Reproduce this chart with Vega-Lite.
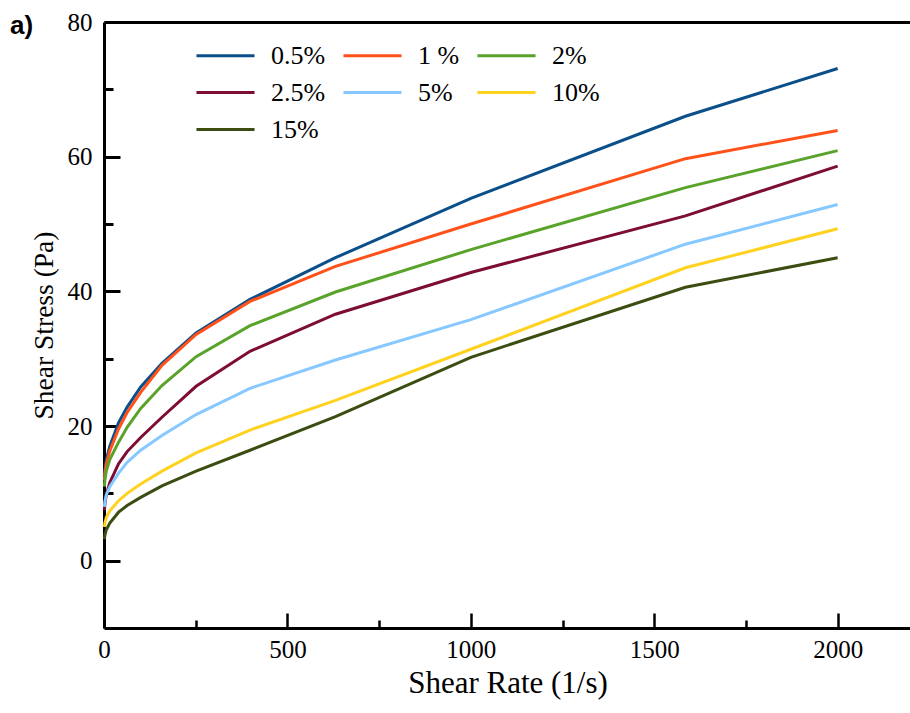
{
  "$schema": "https://vega.github.io/schema/vega-lite/v6.json",
  "width": 807,
  "height": 606,
  "autosize": {"type": "none"},
  "padding": {"left": 104, "top": 22, "right": 0, "bottom": 85},
  "background": "white",
  "title": {"text": "a)", "anchor": "start", "frame": "group", "font": "Liberation Sans", "fontSize": 26, "fontWeight": "bold", "color": "black", "baseline": "top", "offset": 0, "dx": -94, "dy": 29},
  "config": {"view": {"stroke": null}, "font": "Liberation Serif"},
  "data": {"values": [
    {"conc":"0.5%","rate":1,"stress":12.5},{"conc":"0.5%","rate":2.5,"stress":13.5},{"conc":"0.5%","rate":6.3,"stress":15.0},{"conc":"0.5%","rate":15.8,"stress":17.0},{"conc":"0.5%","rate":39.8,"stress":20.5},{"conc":"0.5%","rate":63.1,"stress":22.8},{"conc":"0.5%","rate":100,"stress":25.8},{"conc":"0.5%","rate":158,"stress":29.3},{"conc":"0.5%","rate":251,"stress":33.8},{"conc":"0.5%","rate":398,"stress":38.8},{"conc":"0.5%","rate":631,"stress":45.0},{"conc":"0.5%","rate":1000,"stress":53.8},{"conc":"0.5%","rate":1585,"stress":66.0},{"conc":"0.5%","rate":2000,"stress":73.1},
    {"conc":"1 %","rate":1,"stress":12.0},{"conc":"1 %","rate":2.5,"stress":13.0},{"conc":"1 %","rate":6.3,"stress":14.4},{"conc":"1 %","rate":15.8,"stress":16.3},{"conc":"1 %","rate":39.8,"stress":19.6},{"conc":"1 %","rate":63.1,"stress":22.0},{"conc":"1 %","rate":100,"stress":25.0},{"conc":"1 %","rate":158,"stress":29.0},{"conc":"1 %","rate":251,"stress":33.6},{"conc":"1 %","rate":398,"stress":38.5},{"conc":"1 %","rate":631,"stress":43.7},{"conc":"1 %","rate":1000,"stress":50.0},{"conc":"1 %","rate":1585,"stress":59.7},{"conc":"1 %","rate":2000,"stress":63.9},
    {"conc":"2%","rate":1,"stress":11.0},{"conc":"2%","rate":2.5,"stress":12.0},{"conc":"2%","rate":6.3,"stress":13.3},{"conc":"2%","rate":15.8,"stress":15.0},{"conc":"2%","rate":39.8,"stress":17.6},{"conc":"2%","rate":63.1,"stress":19.8},{"conc":"2%","rate":100,"stress":22.6},{"conc":"2%","rate":158,"stress":26.0},{"conc":"2%","rate":251,"stress":30.3},{"conc":"2%","rate":398,"stress":34.9},{"conc":"2%","rate":631,"stress":39.9},{"conc":"2%","rate":1000,"stress":46.2},{"conc":"2%","rate":1585,"stress":55.4},{"conc":"2%","rate":2000,"stress":60.9},
    {"conc":"2.5%","rate":1,"stress":7.5},{"conc":"2.5%","rate":2.5,"stress":8.5},{"conc":"2.5%","rate":6.3,"stress":9.8},{"conc":"2.5%","rate":15.8,"stress":11.6},{"conc":"2.5%","rate":39.8,"stress":14.4},{"conc":"2.5%","rate":63.1,"stress":16.2},{"conc":"2.5%","rate":100,"stress":18.3},{"conc":"2.5%","rate":158,"stress":21.3},{"conc":"2.5%","rate":251,"stress":25.9},{"conc":"2.5%","rate":398,"stress":31.1},{"conc":"2.5%","rate":631,"stress":36.6},{"conc":"2.5%","rate":1000,"stress":42.8},{"conc":"2.5%","rate":1585,"stress":51.2},{"conc":"2.5%","rate":2000,"stress":58.6},
    {"conc":"5%","rate":1,"stress":8.0},{"conc":"5%","rate":2.5,"stress":8.8},{"conc":"5%","rate":6.3,"stress":9.8},{"conc":"5%","rate":15.8,"stress":11.0},{"conc":"5%","rate":39.8,"stress":13.0},{"conc":"5%","rate":63.1,"stress":14.6},{"conc":"5%","rate":100,"stress":16.4},{"conc":"5%","rate":158,"stress":18.6},{"conc":"5%","rate":251,"stress":21.7},{"conc":"5%","rate":398,"stress":25.6},{"conc":"5%","rate":631,"stress":29.8},{"conc":"5%","rate":1000,"stress":35.8},{"conc":"5%","rate":1585,"stress":47.0},{"conc":"5%","rate":2000,"stress":52.9},
    {"conc":"10%","rate":1,"stress":5.0},{"conc":"10%","rate":2.5,"stress":5.6},{"conc":"10%","rate":6.3,"stress":6.4},{"conc":"10%","rate":15.8,"stress":7.4},{"conc":"10%","rate":39.8,"stress":8.9},{"conc":"10%","rate":63.1,"stress":10.0},{"conc":"10%","rate":100,"stress":11.4},{"conc":"10%","rate":158,"stress":13.3},{"conc":"10%","rate":251,"stress":16.0},{"conc":"10%","rate":398,"stress":19.4},{"conc":"10%","rate":631,"stress":23.8},{"conc":"10%","rate":1000,"stress":31.4},{"conc":"10%","rate":1585,"stress":43.5},{"conc":"10%","rate":2000,"stress":49.3},
    {"conc":"15%","rate":1,"stress":3.2},{"conc":"15%","rate":2.5,"stress":3.8},{"conc":"15%","rate":6.3,"stress":4.6},{"conc":"15%","rate":15.8,"stress":5.6},{"conc":"15%","rate":39.8,"stress":7.2},{"conc":"15%","rate":63.1,"stress":8.2},{"conc":"15%","rate":100,"stress":9.4},{"conc":"15%","rate":158,"stress":11.1},{"conc":"15%","rate":251,"stress":13.3},{"conc":"15%","rate":398,"stress":16.4},{"conc":"15%","rate":631,"stress":21.4},{"conc":"15%","rate":1000,"stress":30.2},{"conc":"15%","rate":1585,"stress":40.6},{"conc":"15%","rate":2000,"stress":45.0}
  ]},
  "layer": [
    {
      "mark": {"type": "line", "strokeWidth": 3},
      "encoding": {
        "x": {"field": "rate", "type": "quantitative", "scale": {"domain": [0, 2200], "nice": false},
          "axis": {"orient": "bottom", "values": [0, 500, 1000, 1500, 2000], "format": "d", "tickSize": -15, "tickWidth": 2.5, "tickColor": "black", "domainWidth": 3, "domainColor": "black", "grid": false,
            "labelFont": "Liberation Serif", "labelFontSize": 25, "labelColor": "black", "labelPadding": 24, "labelFlush": false,
            "title": "Shear Rate (1/s)", "titleFont": "Liberation Serif", "titleFontSize": 31, "titleFontWeight": "normal", "titleColor": "black", "titlePadding": 6}},
        "y": {"field": "stress", "type": "quantitative", "scale": {"domain": [-10, 80], "nice": false, "zero": false},
          "axis": {"orient": "left", "values": [0, 20, 40, 60, 80], "ticks": false, "domainWidth": 3, "domainColor": "black", "grid": false,
            "labelFont": "Liberation Serif", "labelFontSize": 25, "labelColor": "black", "labelPadding": 12, "labelFlush": false,
            "title": "Shear Stress (Pa)", "titleFont": "Liberation Serif", "titleFontSize": 27.5, "titleFontWeight": "normal", "titleColor": "black", "titlePadding": 9}},
        "color": {"field": "conc", "type": "nominal",
          "scale": {"domain": ["0.5%", "1 %", "2%", "2.5%", "5%", "10%", "15%"], "range": ["#0B4F8A", "#FF5119", "#5AA32B", "#7D0D35", "#86C8FF", "#FFD21F", "#3B4D10"]},
          "legend": {"orient": "none", "legendX": 98, "legendY": 10, "columns": 3, "direction": "horizontal", "title": null, "symbolType": "M-1.32,0H1.32", "symbolSize": 1936, "symbolStrokeWidth": 3,
            "labelFont": "Liberation Serif", "labelFontSize": 26, "labelColor": "black", "labelOffset": 22, "columnPadding": 11, "rowPadding": 0, "padding": 0}}
      }
    },
    {
      "mark": {"type": "line", "opacity": 0},
      "encoding": {
        "x": {"field": "rate", "type": "quantitative", "scale": {"domain": [0, 2200], "nice": false},
          "axis": {"orient": "bottom", "values": [250, 750, 1250, 1750], "tickSize": -8, "tickWidth": 2.5, "tickColor": "black", "domain": false, "labels": false, "grid": false, "title": null}},
        "y": {"field": "stress", "type": "quantitative", "scale": {"domain": [-10, 80], "nice": false, "zero": false},
          "axis": {"orient": "left", "values": [0, 20, 40, 60, 80], "tickSize": -16, "tickWidth": 3, "tickColor": "#000000", "domain": false, "labels": false, "grid": false, "title": null}},
        "detail": {"field": "conc"}
      }
    },
    {
      "mark": {"type": "line", "opacity": 0},
      "encoding": {
        "x": {"field": "rate", "type": "quantitative", "scale": {"domain": [0, 2200], "nice": false},
          "axis": {"orient": "top", "domainWidth": 3, "domainColor": "black", "ticks": false, "labels": false, "grid": false, "title": null}},
        "y": {"field": "stress", "type": "quantitative", "scale": {"domain": [-10, 80], "nice": false, "zero": false},
          "axis": {"orient": "left", "values": [10, 30, 50, 70], "tickSize": -9, "tickWidth": 3, "tickColor": "#000000", "domain": false, "labels": false, "grid": false, "title": null}},
        "detail": {"field": "conc"}
      }
    }
  ],
  "resolve": {"axis": {"x": "independent", "y": "independent"}}
}
